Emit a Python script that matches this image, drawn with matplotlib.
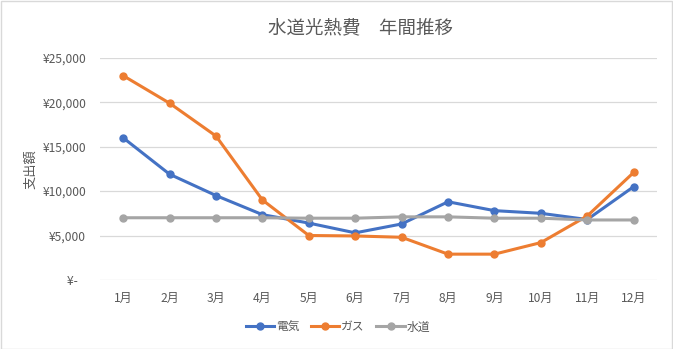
import matplotlib.pyplot as plt
from matplotlib.ticker import FuncFormatter

plt.rcParams['font.family'] = ['Noto Sans CJK JP', 'DejaVu Sans']

# Data
months = ['1月', '2月', '3月', '4月', '5月', '6月', '7月', '8月', '9月', '10月', '11月', '12月']
denki = [16000, 11900, 9500, 7350, 6400, 5300, 6300, 8800, 7800, 7500, 6800, 10500]
gas = [23000, 19900, 16200, 9000, 5000, 4950, 4800, 2900, 2900, 4200, 7200, 12100]
suido = [7000, 7000, 7000, 7000, 6950, 6950, 7100, 7100, 6950, 6950, 6750, 6750]

text_color = '#595959'

fig = plt.figure(figsize=(6.73, 3.49), dpi=100)
ax = fig.add_axes([0.1486, 0.198, 0.8274, 0.636])

x = range(len(months))
ax.plot(x, denki, color='#4472C4', linewidth=2.2, marker='o', markersize=5, label='電気', zorder=3)
ax.plot(x, gas, color='#ED7D31', linewidth=2.2, marker='o', markersize=5, label='ガス', zorder=3)
ax.plot(x, suido, color='#A5A5A5', linewidth=2.2, marker='o', markersize=5, label='水道', zorder=3)

ax.set_xlim(-0.5, len(months) - 0.5)
ax.set_ylim(0, 25000)
ax.set_yticks(range(0, 25001, 5000))
ax.yaxis.set_major_formatter(FuncFormatter(lambda v, p: '¥-   ' if v == 0 else '¥{:,.0f}'.format(v)))
ax.set_xticks(list(x))
ax.set_xticklabels(months)

ax.grid(axis='y', color='#D9D9D9', linewidth=0.9)
ax.set_axisbelow(True)
for s in ax.spines.values():
    s.set_visible(False)
ax.tick_params(length=0, colors=text_color, labelsize=8.7)
ax.tick_params(axis='x', pad=9)
ax.tick_params(axis='y', pad=10)

ax.set_ylabel('支出額', color=text_color, fontsize=9.5, labelpad=3.5)

fig.text(0.535, 0.92, '水道光熱費　年間推移', ha='center', va='center', fontsize=13.3, color=text_color)

fig.legend(loc='center', bbox_to_anchor=(0.502, 0.063), ncol=3, frameon=False,
           fontsize=8.5, handlelength=2.4, handletextpad=0.15, columnspacing=1.0,
           labelcolor=text_color)

# light border around the chart
fig.patches.append(plt.Rectangle((0.001, 0.001), 0.997, 0.997, transform=fig.transFigure,
                                 fill=False, edgecolor='#D9D9D9', linewidth=1))

fig.savefig('out.png', dpi=100)
